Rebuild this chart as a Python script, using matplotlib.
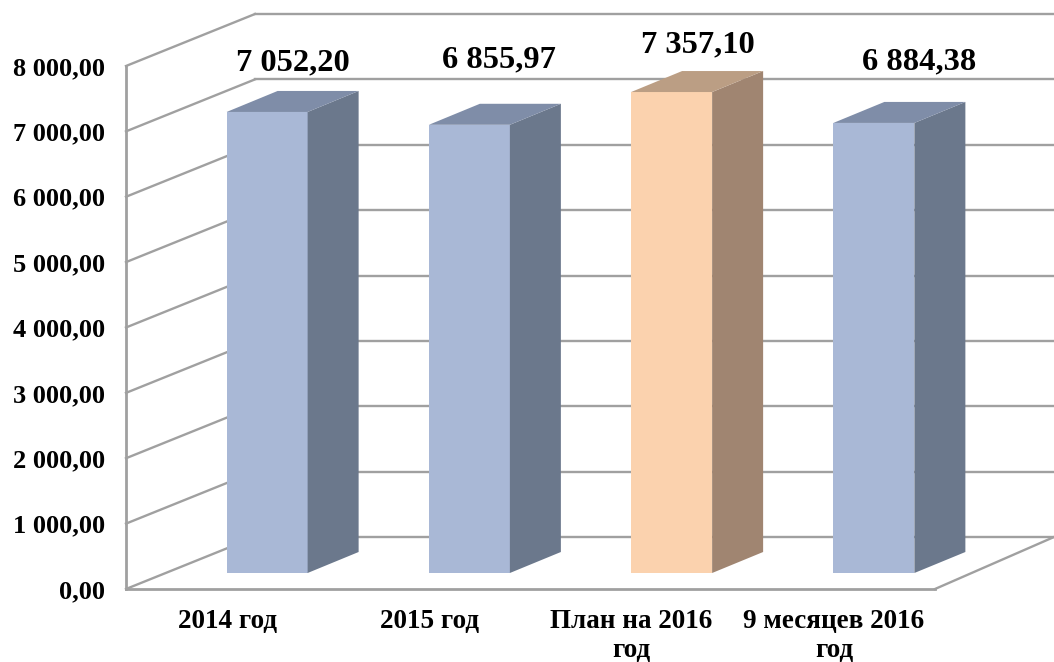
import matplotlib
matplotlib.use("Agg")
import matplotlib.pyplot as plt

categories = ["2014 год", "2015 год", "План на 2016\nгод", "9 месяцев 2016\nгод"]
values = [7052.20, 6855.97, 7357.10, 6884.38]
ticks = [0, 1000, 2000, 3000, 4000, 5000, 6000, 7000, 8000]
tick_labels = ["0,00", "1 000,00", "2 000,00", "3 000,00", "4 000,00",
               "5 000,00", "6 000,00", "7 000,00", "8 000,00"]

GRID = "#a0a0a0"
BLUE = ("#a9b8d6", "#6b788c", "#7f8da8")
PEACH = ("#fbd2ae", "#a08571", "#bb9e84")
bar_colors = [BLUE, BLUE, PEACH, BLUE]

# labels were moved by hand in the original: offsets from the bar's top, in px
label_dx = [0, 4, 1, 20]
label_gap = [21, 36, 19, 33]

plt.rcParams["font.family"] = ["Liberation Serif", "DejaVu Serif"]
plt.rcParams["font.weight"] = "bold"

W, H = 1054, 662
fig = plt.figure(figsize=(W / 100, H / 100), dpi=100)
# front plane of the box, in pixels: x 126-935, y 66-589
ax = fig.add_axes([126 / W, (H - 589) / H, 809 / W, 523 / H])
ax.set_xlim(-0.5, 3.5)
ax.set_ylim(0, 8000)

# pixels to data units
px_x = 4 / 809
px_y = 8000 / 523
depth_x = 129 * px_x
depth_y = 52 * px_y

# back wall and side wall lines
for t in ticks:
    ax.plot([-0.5, -0.5 + depth_x], [t, t + depth_y], color=GRID, lw=1.7,
            clip_on=False, zorder=1)
    ax.plot([-0.5 + depth_x, 3.5 + depth_x], [t + depth_y, t + depth_y], color=GRID,
            lw=1.7, clip_on=False, zorder=1)
ax.plot([3.5, 3.5 + 119 * px_x], [0, depth_y], color=GRID, lw=1.7, clip_on=False, zorder=1)

# bars with side and top faces
front_x = 40 * px_x
front_y = 16 * px_y
bar_w = 81 * px_x
bar_dx = 51 * px_x
bar_dy = 21 * px_y
for i, v in enumerate(values):
    c = bar_colors[i]
    x0 = i + front_x - bar_w / 2
    x1 = x0 + bar_w
    y0 = front_y
    y1 = front_y + v
    ax.bar(i + front_x, v, width=bar_w, bottom=y0, color=c[0], zorder=3, clip_on=False)
    ax.fill([x1, x1 + bar_dx, x1 + bar_dx, x1],
            [y0, y0 + bar_dy, y1 + bar_dy, y1], color=c[1], lw=0, zorder=3, clip_on=False)
    ax.fill([x0, x0 + bar_dx, x1 + bar_dx, x1],
            [y1, y1 + bar_dy, y1 + bar_dy, y1], color=c[2], lw=0, zorder=3, clip_on=False)
    label = f"{v:,.2f}".replace(",", " ").replace(".", ",")
    ax.text(i + front_x + bar_dx / 2 + label_dx[i] * px_x, y1 + bar_dy + label_gap[i] * px_y,
            label, ha="center", va="baseline", fontsize=23.4, color="black", zorder=4)

for s in ["top", "right"]:
    ax.spines[s].set_visible(False)
for s in ["left", "bottom"]:
    ax.spines[s].set_color(GRID)
    ax.spines[s].set_linewidth(2)

ax.set_yticks(ticks)
ax.set_yticklabels(tick_labels, fontsize=19, color="black")
ax.set_xticks(range(len(categories)))
ax.set_xticklabels(categories, fontsize=19.5, color="black", linespacing=1.2)
ax.tick_params(axis="both", length=0)
ax.tick_params(axis="y", pad=15)
ax.tick_params(axis="x", pad=14.5)

fig.savefig("out.png", dpi=100)
